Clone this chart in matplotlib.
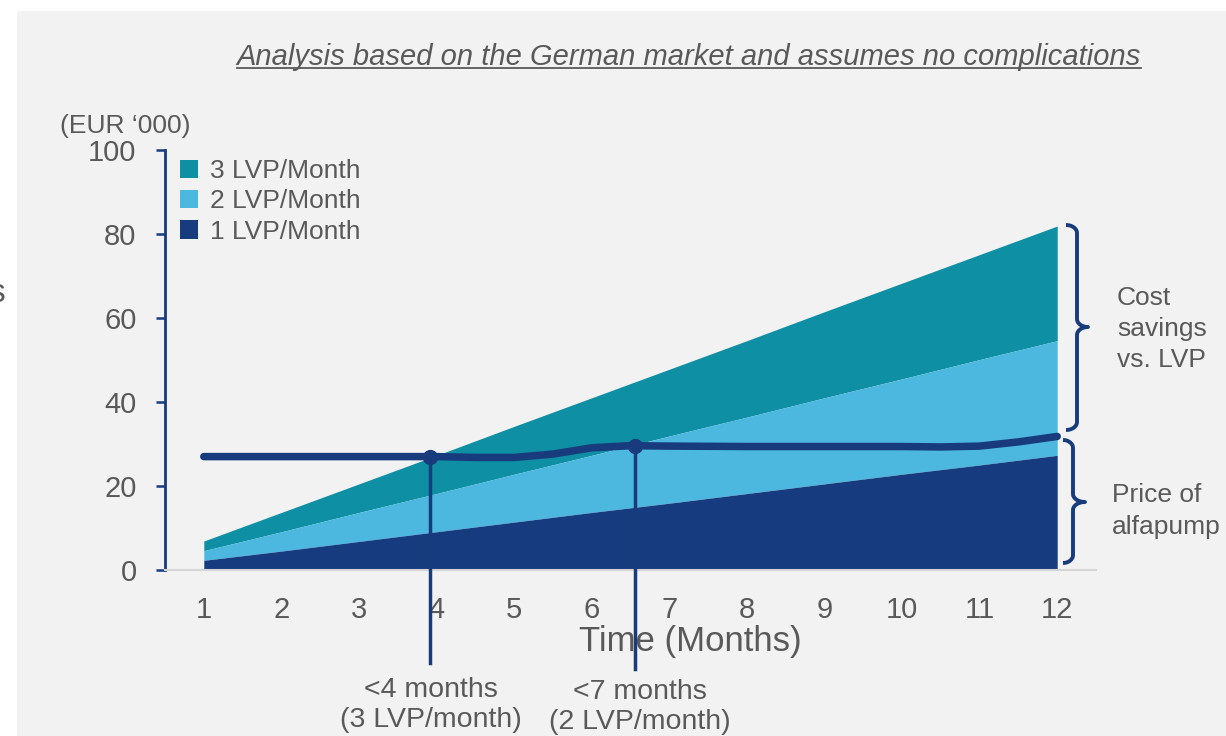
import matplotlib
matplotlib.use("Agg")
import matplotlib.pyplot as plt
from matplotlib.patches import Rectangle, Patch
from matplotlib.lines import Line2D
import numpy as np

plt.rcParams['font.family'] = ['Liberation Sans', 'DejaVu Sans']

# ---- data ----
months = [1, 2, 3, 4, 5, 6, 7, 8, 9, 10, 11, 12]
savings_1lvp = [2.3, 4.5, 6.8, 9.1, 11.4, 13.7, 15.9, 18.2, 20.5, 22.8, 25.0, 27.3]
savings_2lvp = [4.6, 9.1, 13.7, 18.2, 22.8, 27.3, 31.9, 36.4, 41.0, 45.5, 50.1, 54.6]
savings_3lvp = [6.9, 13.7, 20.5, 27.3, 34.2, 41.0, 47.8, 54.6, 61.5, 68.3, 75.1, 81.9]
price_x = [1, 2, 3, 4, 4.5, 5, 5.5, 6, 6.5, 7, 8, 9, 10, 10.5, 11, 11.5, 12]
price_y = [27.0, 27.0, 27.0, 27.0, 26.8, 26.8, 27.6, 29.1, 29.6, 29.5, 29.4, 29.4, 29.4, 29.3, 29.5, 30.5, 31.8]
breakeven_x = [3.92, 6.56]
breakeven_y = [27.0, 29.6]
breakeven_labels = ["<4 months\n(3 LVP/month)", "<7 months\n(2 LVP/month)"]
series_labels = ["3 LVP/Month", "2 LVP/Month", "1 LVP/Month"]
yticks = [0, 20, 40, 60, 80, 100]

C3 = '#0e8fa3'
C2 = '#4cb8e0'
C1 = '#163b7e'
LINE = '#173b7d'
GRAY = '#595959'

W, H = 1226, 736
fig = plt.figure(figsize=(W / 100, H / 100), dpi=100)
fig.patch.set_facecolor('white')
fig.add_artist(Rectangle((17 / W, 0), 1 - 17 / W, 1 - 11 / H, transform=fig.transFigure,
                         facecolor='#f2f2f2', edgecolor='none', zorder=0))
fig.text(5 / W, 1 - 294 / H, 's', ha='right', va='center', fontsize=24, color=GRAY)

AX_L, AX_R, AX_T, AX_B = 165, 1096, 150, 570
ax = fig.add_axes([AX_L / W, 1 - AX_B / H, (AX_R - AX_L) / W, (AX_B - AX_T) / H])
ax.set_facecolor('none')
ax.set_xlim(0.5, 12.5)
ax.set_ylim(0, 100)

def px2x(px):
    return 0.5 + (px - AX_L) / (AX_R - AX_L) * 12.0

def py2y(py):
    return (AX_B - py) / (AX_B - AX_T) * 100.0

ax.fill_between(months, savings_2lvp, savings_3lvp, color=C3, linewidth=0, zorder=2)
ax.fill_between(months, savings_1lvp, savings_2lvp, color=C2, linewidth=0, zorder=2)
ax.fill_between(months, 0, savings_1lvp, color=C1, linewidth=0, zorder=2)

ax.plot(price_x, price_y, color=LINE, lw=5.4, solid_capstyle='round', solid_joinstyle='round', zorder=4)

ends = [py2y(663), py2y(669)]
for bx, by, ye in zip(breakeven_x, breakeven_y, ends):
    ax.plot([bx, bx], [by, ye], color=LINE, lw=2.5, clip_on=False, zorder=5)
    ax.plot([bx], [by], 'o', color=LINE, ms=10, clip_on=False, zorder=6)

fig.text(431 / W, 1 - 705 / H, breakeven_labels[0], ha='center', va='center', fontsize=20.5,
         color=GRAY, linespacing=1.2)
fig.text(640 / W, 1 - 707 / H, breakeven_labels[1], ha='center', va='center', fontsize=20.5,
         color=GRAY, linespacing=1.2)

# spines/ticks
for s in ['top', 'right']:
    ax.spines[s].set_visible(False)
ax.spines['left'].set_color(LINE)
ax.spines['left'].set_linewidth(2)
ax.spines['bottom'].set_color('#d4d4d4')
ax.spines['bottom'].set_linewidth(1.5)
ax.set_yticks(yticks)
ax.set_xticks(months)
ax.tick_params(axis='y', direction='out', length=6.5, width=1.8, color=LINE, pad=14,
               labelsize=21, labelcolor=GRAY)
ax.tick_params(axis='x', length=0, pad=19, labelsize=21, labelcolor=GRAY)
ax.set_xlabel('Time (Months)', fontsize=25, color=GRAY)
ax.xaxis.set_label_coords((690 - AX_L) / (AX_R - AX_L), -(641 - AX_B) / (AX_B - AX_T))
ax.xaxis.label.set_va('center')

fig.text(125 / W, 1 - 126 / H, '(EUR \u2018000)', ha='center', va='center', fontsize=19, color=GRAY)

handles = [Patch(facecolor=C3), Patch(facecolor=C2), Patch(facecolor=C1)]
leg = ax.legend(handles, series_labels, loc='upper left', bbox_to_anchor=(15 / 931, 1 - 9 / 420),
                frameon=False, fontsize=19, handlelength=0.7, handleheight=0.7,
                handletextpad=0.45, labelspacing=0.24, borderaxespad=0, borderpad=0)
for t in leg.get_texts():
    t.set_color(GRAY)

# braces (pixel geometry converted to data coords)
def brace(px_end, px_bar, px_tip, py_top, py_bot, py_tip, r=8):
    def arc(cx, cy, rx, ry, a0, a1, n=16):
        a = np.linspace(a0, a1, n)
        return cx + rx * np.cos(a), cy + ry * np.sin(a)
    w1 = px_bar - px_end
    w2 = px_tip - px_bar
    segs_x, segs_y = [], []
    x, y = arc(px_end, py_top + r, w1, r, -np.pi / 2, 0)
    segs_x.append(x); segs_y.append(y)
    x, y = arc(px_tip, py_tip - r, w2, r, np.pi, np.pi / 2)
    segs_x.append(x); segs_y.append(y)
    x, y = arc(px_tip, py_tip + r, w2, r, -np.pi / 2, -np.pi)
    segs_x.append(x); segs_y.append(y)
    x, y = arc(px_end, py_bot - r, w1, r, 0, np.pi / 2)
    segs_x.append(x); segs_y.append(y)
    xs = np.concatenate(segs_x)
    ys = np.concatenate(segs_y)
    ax.plot(px2x(xs), py2y(ys), color=LINE, lw=2.8, clip_on=False,
            solid_capstyle='butt', solid_joinstyle='round', zorder=5)

brace(1066, 1077, 1088, 225, 430, 327)
brace(1063, 1073, 1085, 440, 563, 502)

fig.text(1117 / W, 1 - 329 / H, 'Cost\nsavings\nvs. LVP', ha='left', va='center', fontsize=19,
         color=GRAY, linespacing=1.37)
fig.text(1112 / W, 1 - 511 / H, 'Price of\nalfapump', ha='left', va='center', fontsize=19,
         color=GRAY, linespacing=1.37)

title = fig.text(689 / W, 1 - 57 / H,
                 'Analysis based on the German market and assumes no complications',
                 ha='center', va='center', fontsize=21, style='italic', color=GRAY)
fig.canvas.draw()
bb = title.get_window_extent(fig.canvas.get_renderer())
uy = bb.y0 + 3
fig.add_artist(Line2D([bb.x0 / W, bb.x1 / W], [uy / H, uy / H], transform=fig.transFigure,
                      color=GRAY, lw=1.3))

fig.savefig('out.png', dpi=100, facecolor='white')
